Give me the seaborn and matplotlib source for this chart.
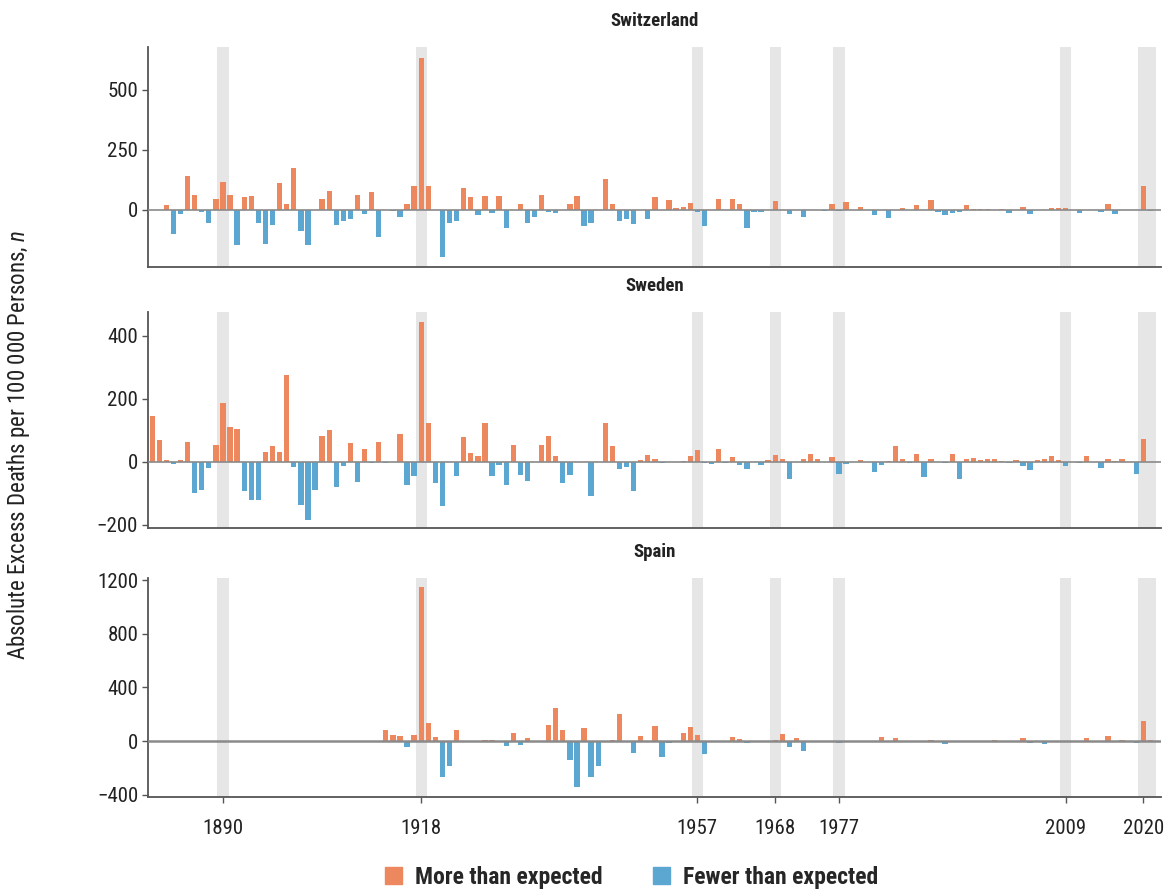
import pandas as pd
import matplotlib
matplotlib.use("Agg")
import matplotlib.pyplot as plt
from matplotlib import font_manager
from matplotlib.patches import Patch
import seaborn as sns

# ---- Data (excess deaths per 100 000, by year) -----------------------------

switzerland_start = 1882
switzerland = [
    21, -100, -17, 139, 60, -10, -55, 43, 115, 62,          # 1882-1891
    -149, 53, 56, -54, -145, -65, 113, 25, 174, -90,        # 1892-1901
    -149, 0, 46, 78, -65, -49, -40, 62, -19, 74,            # 1902-1911
    -114, 0, -7, -30, 22, 99, 632, 99, 0, -197,             # 1912-1921
    -55, -49, 92, 53, -21, 56, -12, 56, -75, 0,             # 1922-1931
    22, -55, -30, 62, -10, -12, 0, 25, 57, -70,             # 1932-1941
    -55, 0, 126, 25, -49, -40, -61, 0, -40, 53,             # 1942-1951
    0, 39, 5, 11, 28, -10, -70, 0, 43, 0,                   # 1952-1961
    43, 25, -75, -10, -8, 0, 35, 0, -17, 0,                 # 1962-1971
    -30, 0, 0, -5, 25, -5, 32, 0, 10, 0,                    # 1972-1981
    -24, 0, -33, 0, 8, 0, 18, 0, 39, -10,                   # 1982-1991
    -22, -12, -8, 20, 3, 2, 3, 0, 2, -15,                   # 1992-2001
    0, 10, -20, 0, 0, 8, 8, 6, 0, -12,                      # 2002-2011
    0, 0, -10, 25, -20, 0, 0, 0, 99, -5, 0,                 # 2012-2022
]

sweden_start = 1880
sweden = [
    146, 68, 4, -7, 4, 61, -99, -91, -20, 52,               # 1880-1889
    186, 109, 104, -94, -121, -121, 31, 49, 30, 276,        # 1890-1899
    -18, -139, -186, -89, 80, 99, -80, -15, 59, -65,        # 1900-1909
    40, -5, 63, -4, 0, 88, -75, -44, 445, 123,              # 1910-1919
    -68, -140, 0, -47, 78, 28, 19, 123, -44, -12,           # 1920-1929
    -73, 52, -41, -60, 0, 52, 80, 17, -68, -41,             # 1930-1939
    0, 0, -110, 0, 123, 49, -23, -17, -92, 5,               # 1940-1949
    22, 7, -5, 0, 0, 3, 19, 38, -5, -8,                     # 1950-1959
    40, -5, 15, -12, -23, 0, -10, 5, 20, 10,                # 1960-1969
    -54, 0, 8, 25, 10, 0, 15, -39, -8, 0,                   # 1970-1979
    6, 0, -33, -12, 3, 49, 8, -5, 25, -50,                  # 1980-1989
    10, 0, -5, 25, -55, 8, 12, 5, 8, 8,                     # 1990-1999
    3, -3, 5, -15, -25, 5, 8, 18, 5, -15,                   # 2000-2009
    0, -5, 18, 0, -20, 10, 3, 10, 0, -40,                   # 2010-2019
    72, 0, 0,                                               # 2020-2022
]

spain_start = 1913
spain = [
    85, 47, 35, -45, 47, 1148, 134,                         # 1913-1919
    30, -264, -182, 80, 0, 3, 3, 5, 10, 0,                  # 1920-1929
    -40, 60, -30, 25, 0, 0, 122, 246, 80, -140,             # 1930-1939
    -340, 95, -271, -182, 0, 5, 204, 0, -90, 35,            # 1940-1949
    0, 115, -115, -15, 0, 60, 105, 47, -97, 0,              # 1950-1959
    0, 0, 30, 12, -15, -10, 0, 0, 10, 55,                   # 1960-1969
    -45, 20, -72, 0, 3, 0, 0, -15, 0, 3,                    # 1970-1979
    0, 3, 0, 30, 0, 20, 3, -10, 0, 3,                       # 1980-1989
    8, 0, -20, 0, 3, 0, 3, 0, 0, 10,                        # 1990-1999
    -10, -10, 0, 25, -15, 0, -25, 0, 3, 0,                  # 2000-2009
    3, 0, 20, -5, 0, 40, 3, 5, 3, -15,                      # 2010-2019
    152, 5, 0,                                              # 2020-2022
]

pandemic_years = [1890, 1918, 1957, 1968, 1977, 2009, 2020]

panels = [
    ("Switzerland", switzerland_start, switzerland, [0, 250, 500], (-239, 677)),
    ("Sweden", sweden_start, sweden, [-200, 0, 200, 400], (-210, 477)),
    ("Spain", spain_start, spain, [-400, 0, 400, 800, 1200], (-413, 1218)),
]

ORANGE = "#EC875E"
BLUE = "#5CA7D2"
MORE = "More than expected"
FEWER = "Fewer than expected"


def pick_narrow_font():
    # the original uses a condensed face; take whatever narrow one is installed
    fonts = font_manager.fontManager.ttflist
    names = {f.name for f in fonts}
    for name in ["Liberation Sans Narrow", "Roboto Condensed", "Open Sans Condensed",
                 "DejaVu Sans Condensed", "Noto Sans Condensed"]:
        if name in names:
            return name, "normal"
    for f in fonts:
        if "Narrow" in f.name or "Condensed" in f.name:
            return f.name, "normal"
    for f in fonts:
        if str(f.stretch) in ("condensed", "semi-condensed", "extra-condensed"):
            return f.name, "condensed"
    return "Liberation Sans", "normal"


sns.set_theme(style="white")
family, stretch = pick_narrow_font()
plt.rcParams["font.family"] = [family, "DejaVu Sans"]
plt.rcParams["font.stretch"] = stretch
plt.rcParams["mathtext.fontset"] = "custom"
plt.rcParams["mathtext.it"] = family + ":italic"
plt.rcParams["mathtext.rm"] = family

fig = plt.figure(figsize=(11.74, 8.9), dpi=100)
bottoms = [0.700, 0.407, 0.105]
heights = [0.247, 0.243, 0.246]

for i, (name, start, values, yticks, ylim) in enumerate(panels):
    ax = fig.add_axes([0.126, bottoms[i], 0.863, heights[i]])
    df = pd.DataFrame({"year": range(start, start + len(values)), "value": values})
    df["dir"] = [MORE if v >= 0 else FEWER for v in df["value"]]

    for yr in pandemic_years:
        right = yr + 1.85 if yr == 2020 else yr + 0.8
        ax.axvspan(yr - 0.8, right, color="#e6e6e6", lw=0, zorder=0)

    sns.barplot(
        data=df, x="year", y="value", hue="dir",
        palette={MORE: ORANGE, FEWER: BLUE}, hue_order=[MORE, FEWER],
        native_scale=True, dodge=False, width=0.75, saturation=1,
        legend=False, errorbar=None, ax=ax, zorder=2, linewidth=0,
    )
    ax.axhline(0, color="#8a8a8a", lw=1.8 if name == "Spain" else 1.2, zorder=3)

    ax.set_xlim(1879.4, 2022.5)
    ax.set_ylim(*ylim)
    ax.set_yticks(yticks)
    ax.set_xticks(pandemic_years)
    ax.set_xlabel("")
    ax.set_ylabel("")
    ax.set_title(name, fontsize=13.5, fontweight="bold", pad=15, color="#222222")

    ax.spines[["top", "right"]].set_visible(False)
    for side in ["left", "bottom"]:
        ax.spines[side].set_color("#555555")
        ax.spines[side].set_linewidth(1.3)
    ax.tick_params(axis="y", left=True, length=4, width=1, color="#555555",
                   labelsize=15, labelcolor="#222222", pad=3)
    if name == "Spain":
        ax.tick_params(axis="x", bottom=True, length=4, width=1, color="#555555",
                       labelsize=15, labelcolor="#222222", pad=12)
    else:
        ax.tick_params(axis="x", length=0, labelbottom=False)

fig.text(0.016, 0.5, r"Absolute Excess Deaths per 100 000 Persons, $\mathit{n}$",
         rotation=90, va="center", ha="center", fontsize=16.5, color="#222222")

handles = [Patch(color=ORANGE, label=MORE), Patch(color=BLUE, label=FEWER)]
fig.legend(handles=handles, loc="center", bbox_to_anchor=(0.538, 0.014), ncol=2,
           frameon=False, handlelength=0.75, handleheight=0.75, handletextpad=0.55,
           columnspacing=2.1, prop={"weight": "bold", "size": 17})

fig.savefig("out.png", dpi=100)
